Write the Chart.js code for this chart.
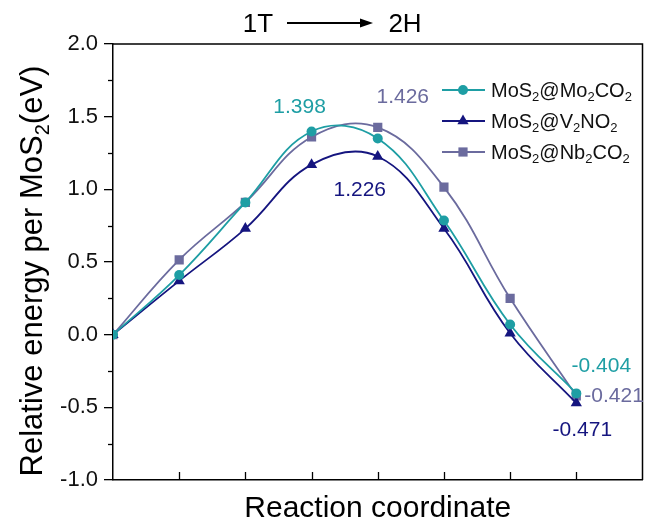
<!DOCTYPE html>
<html>
<head>
<meta charset="utf-8">
<script src="https://cdn.jsdelivr.net/npm/chart.js@4.4.1/dist/chart.umd.min.js"></script>
<style>
  html, body { margin: 0; padding: 0; background: #fff; }
</style>
</head>
<body>
<canvas id="chart" width="649" height="527"></canvas>
<script>
// reaction steps along the 1T -> 2H path
const steps = [0, 1, 2, 3, 4, 5, 6, 7]
const mo2co2 = [0, 0.41, 0.91, 1.398, 1.35, 0.785, 0.07, -0.404]
const v2no2 = [0, 0.37, 0.73, 1.17, 1.226, 0.73, 0.01, -0.471]
const nb2co2 = [0, 0.515, 0.91, 1.36, 1.426, 1.015, 0.25, -0.421]
const seriesNames = ['MoS₂@Mo₂CO₂', 'MoS₂@V₂NO₂', 'MoS₂@Nb₂CO₂']
const yTitle = 'Relative energy per MoS₂(eV)'
const yTickStep = 0.5

// which points get a value label: [dataset, point]
const labelled = [[0, 3], [2, 4], [1, 4], [0, 7], [2, 7], [1, 7]]

const FONT = '"Liberation Sans", Arial, Helvetica, sans-serif'
const teal = '#1e9ea4'
const navy = '#15157f'
const slate = '#6b6b9e'

// label offsets from the point, in pixels
const labelPos = [
  { dx: -12, dy: -24, align: 'center' },
  { dx: 25, dy: -30, align: 'center' },
  { dx: -18, dy: 34, align: 'center' },
  { dx: 25, dy: -27, align: 'center' },
  { dx: 8, dy: 0, align: 'left' },
  { dx: 6, dy: 27, align: 'center' },
]

// text where '₂' becomes a lowered, smaller 2
function richWidth(ctx, str, size) {
  var w = 0
  for (const ch of str) {
    if (ch === '₂') {
      ctx.font = Math.round(size * 0.65) + 'px ' + FONT
      w += ctx.measureText('2').width
    } else {
      ctx.font = size + 'px ' + FONT
      w += ctx.measureText(ch).width
    }
  }
  return w
}

function richText(ctx, str, x, y, size, color) {
  ctx.save()
  ctx.fillStyle = color
  ctx.textBaseline = 'alphabetic'
  ctx.textAlign = 'left'
  var cx = x
  for (const ch of str) {
    if (ch === '₂') {
      ctx.font = Math.round(size * 0.65) + 'px ' + FONT
      ctx.fillText('2', cx, y + size * 0.22)
      cx += ctx.measureText('2').width
    } else {
      ctx.font = size + 'px ' + FONT
      ctx.fillText(ch, cx, y)
      cx += ctx.measureText(ch).width
    }
  }
  ctx.restore()
}

function marker(ctx, style, x, y, r, color) {
  ctx.save()
  ctx.fillStyle = color
  ctx.beginPath()
  if (style === 'circle') {
    ctx.arc(x, y, r, 0, Math.PI * 2)
  } else if (style === 'triangle') {
    for (var k = 0; k < 3; k++) {
      var a = k * 2 * Math.PI / 3
      var px = x + Math.sin(a) * r, py = y - Math.cos(a) * r
      if (k === 0) ctx.moveTo(px, py); else ctx.lineTo(px, py)
    }
    ctx.closePath()
  } else {
    var s = r * Math.SQRT1_2
    ctx.rect(x - s, y - s, 2 * s, 2 * s)
  }
  ctx.fill()
  ctx.restore()
}

const decorations = {
  id: 'decorations',
  afterDatasetsDraw(chart) {
    const ctx = chart.ctx
    const area = chart.chartArea
    const xs = chart.scales.x
    const ys = chart.scales.y

    // frame: top and right
    ctx.save()
    ctx.strokeStyle = '#000'
    ctx.lineWidth = 1.5
    ctx.beginPath()
    ctx.moveTo(area.left, area.top)
    ctx.lineTo(area.right, area.top)
    ctx.lineTo(area.right, area.bottom)
    ctx.stroke()

    // inward ticks on the bottom axis
    ctx.lineWidth = 1.3
    for (var i = 1; i < 8; i++) {
      var px = Math.round(xs.getPixelForValue(i)) + 0.5
      ctx.beginPath()
      ctx.moveTo(px, area.bottom)
      ctx.lineTo(px, area.bottom - 8)
      ctx.stroke()
    }
    // minor ticks on the left axis
    for (var v = ys.min + yTickStep / 2; v < ys.max; v += yTickStep) {
      var py = Math.round(ys.getPixelForValue(v)) + 0.5
      ctx.beginPath()
      ctx.moveTo(area.left, py)
      ctx.lineTo(area.left - 5, py)
      ctx.stroke()
    }
    ctx.restore()

    // y axis title, with a real subscript
    ctx.save()
    ctx.translate(30, 271)
    ctx.rotate(-Math.PI / 2)
    var tw = richWidth(ctx, yTitle, 31)
    richText(ctx, yTitle, -tw / 2, 12, 31, '#000')
    ctx.restore()

    // 1T -> 2H header
    ctx.save()
    ctx.fillStyle = '#000'
    ctx.font = '26px ' + FONT
    ctx.textAlign = 'center'
    ctx.textBaseline = 'middle'
    ctx.fillText('1T', 258, 25)
    ctx.fillText('2H', 405, 25)
    ctx.strokeStyle = '#000'
    ctx.lineWidth = 2
    ctx.beginPath()
    ctx.moveTo(287, 23)
    ctx.lineTo(362, 23)
    ctx.stroke()
    ctx.beginPath()
    ctx.moveTo(373, 23)
    ctx.lineTo(360, 18.5)
    ctx.lineTo(360, 27.5)
    ctx.closePath()
    ctx.fill()
    ctx.restore()

    // value labels
    ctx.save()
    ctx.font = '21px ' + FONT
    ctx.textBaseline = 'middle'
    labelled.forEach(([d, p], k) => {
      const ds = chart.data.datasets[d]
      const val = ds.data[p]
      const pos = labelPos[k]
      ctx.fillStyle = ds.borderColor
      ctx.textAlign = pos.align
      ctx.fillText(val.toFixed(3), xs.getPixelForValue(steps[p]) + pos.dx, ys.getPixelForValue(val) + pos.dy)
    })
    ctx.restore()

    // legend
    chart.data.datasets.forEach((ds, k) => {
      const y = 90 + k * 31
      ctx.save()
      ctx.strokeStyle = ds.borderColor
      ctx.lineWidth = 1.8
      ctx.beginPath()
      ctx.moveTo(442, y)
      ctx.lineTo(485, y)
      ctx.stroke()
      ctx.restore()
      marker(ctx, ds.pointStyle, 463, y, ds.pointRadius, ds.borderColor)
      richText(ctx, ds.label, 491, y + 7, 20, '#111')
    })
  }
}

function series(label, data, color, style, radius) {
  return {
    label: label,
    data: data,
    borderColor: color,
    backgroundColor: color,
    pointBackgroundColor: color,
    pointBorderColor: color,
    pointBorderWidth: 0,
    pointStyle: style,
    pointRadius: radius,
    borderWidth: 1.8,
    tension: 0.4,
    fill: false,
  }
}

new Chart(document.getElementById('chart'), {
  type: 'line',
  data: {
    labels: steps,
    datasets: [
      series(seriesNames[0], mo2co2, teal, 'circle', 5),
      series(seriesNames[1], v2no2, navy, 'triangle', 6.5),
      series(seriesNames[2], nb2co2, slate, 'rect', 6.5),
    ],
  },
  options: {
    responsive: false,
    animation: false,
    devicePixelRatio: 1,
    layout: { padding: { top: 44, right: 2, left: 0, bottom: 0 } },
    plugins: {
      legend: { display: false },
      tooltip: { enabled: false },
    },
    scales: {
      x: {
        type: 'linear',
        min: 0,
        max: 8,
        afterFit: (scale) => { scale.height = 47 },
        ticks: { display: false },
        grid: { display: false },
        border: { display: true, color: '#000', width: 1.5 },
        title: {
          display: true,
          text: 'Reaction coordinate',
          color: '#000',
          font: { family: FONT, size: 30, lineHeight: 1.2 },
          padding: { top: 1, bottom: 0 },
        },
      },
      y: {
        min: -1,
        max: 2,
        afterFit: (scale) => { scale.width = 113 },
        ticks: {
          stepSize: yTickStep,
          color: '#111',
          padding: 6,
          font: { family: FONT, size: 22 },
          callback: (v) => v.toFixed(1),
        },
        grid: { drawOnChartArea: false, drawTicks: true, tickLength: 9, color: '#000', lineWidth: 1.3 },
        border: { display: true, color: '#000', width: 1.5 },
        title: { display: false },
      },
    },
  },
  plugins: [decorations],
})
</script>
</body>
</html>
